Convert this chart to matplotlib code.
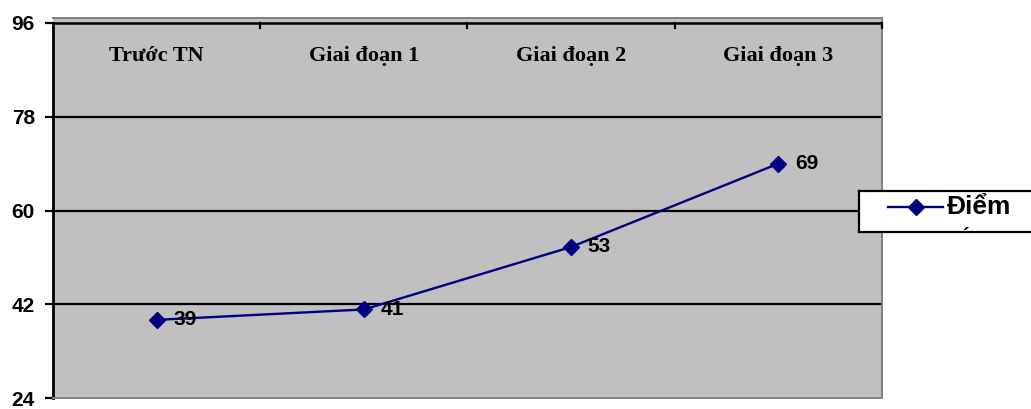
import matplotlib
matplotlib.use("Agg")
import matplotlib.pyplot as plt

categories = ["Trước TN", "Giai đoạn 1", "Giai đoạn 2", "Giai đoạn 3"]
scores = [39, 41, 53, 69]
y_ticks = [24, 42, 60, 78, 96]
series_name = "Điểm"

fig = plt.figure(figsize=(10.31, 4.09), dpi=100)
fig.patch.set_facecolor("white")

# plot area (gray border sits a few pixels above the 96 axis line)
ax = fig.add_axes([53 / 1031, 1 - 398 / 409, 829 / 1031, 380 / 409])
ax.set_facecolor("#C0C0C0")

x = list(range(len(categories)))
top = y_ticks[-1] + 5 * 72 / 375
ax.set_xlim(-0.5, len(categories) - 0.5)
ax.set_ylim(y_ticks[0], top)

# horizontal gridlines and the top category axis line
for v in y_ticks[1:]:
    ax.axhline(v, color="black", lw=1.8 if v == y_ticks[-1] else 1.6, zorder=1)

ax.plot(x, scores, color="#000080", lw=1.7, marker="D", markersize=8.5,
        markerfacecolor="#000080", markeredgecolor="#000080", zorder=3)

for xi, v in zip(x, scores):
    ax.annotate(str(v), (xi, v), xytext=(12, 0), textcoords="offset points",
                ha="left", va="center", fontsize=15, fontweight="bold",
                family="Liberation Sans", zorder=4)

# category labels along the top axis
for xi, c in zip(x, categories):
    ax.text(xi, 89.6, c, ha="center", va="center", fontsize=16, fontweight="bold",
            family="Liberation Serif", zorder=4)

# y axis
ax.set_yticks(y_ticks)
ax.set_yticklabels([str(t) for t in y_ticks], fontsize=15, fontweight="bold",
                   family="Liberation Sans")
ax.tick_params(axis="y", length=6, width=1.6, pad=7, direction="out")
ax.set_xticks([])

# category tick marks between groups on the top axis
for b in [0.5, 1.5, 2.5, 3.5]:
    ax.plot([b, b], [96, 95.0], color="black", lw=1.6, clip_on=False, zorder=5)

for side in ["top", "right", "bottom"]:
    ax.spines[side].set_color("#808080")
    ax.spines[side].set_linewidth(1.4)
ax.spines["left"].set_color("black")
ax.spines["left"].set_linewidth(2)
ax.spines["left"].set_bounds(y_ticks[0], y_ticks[-1])

# legend box
leg_ax = fig.add_axes([859 / 1031, 1 - 232 / 409, (1031 - 859) / 1031 + 0.01, 41 / 409])
leg_ax.set_xlim(0, 1)
leg_ax.set_ylim(0, 1)
leg_ax.set_facecolor("white")
leg_ax.set_xticks([])
leg_ax.set_yticks([])
for s in leg_ax.spines.values():
    s.set_linewidth(1.6)
    s.set_color("black")
leg_ax.plot([0.16, 0.46], [0.6, 0.6], color="#000080", lw=1.7)
leg_ax.plot([0.31], [0.6], marker="D", markersize=8.5, color="#000080")
leg_ax.text(0.48, 0.6, series_name, ha="left", va="center", fontsize=19,
            fontweight="bold", family="Liberation Sans")
leg_ax.text(0.565, -0.12, "´", ha="left", va="center", fontsize=14,
            fontweight="bold", family="Liberation Sans", clip_on=True)

fig.savefig("out.png", dpi=100, facecolor="white")
